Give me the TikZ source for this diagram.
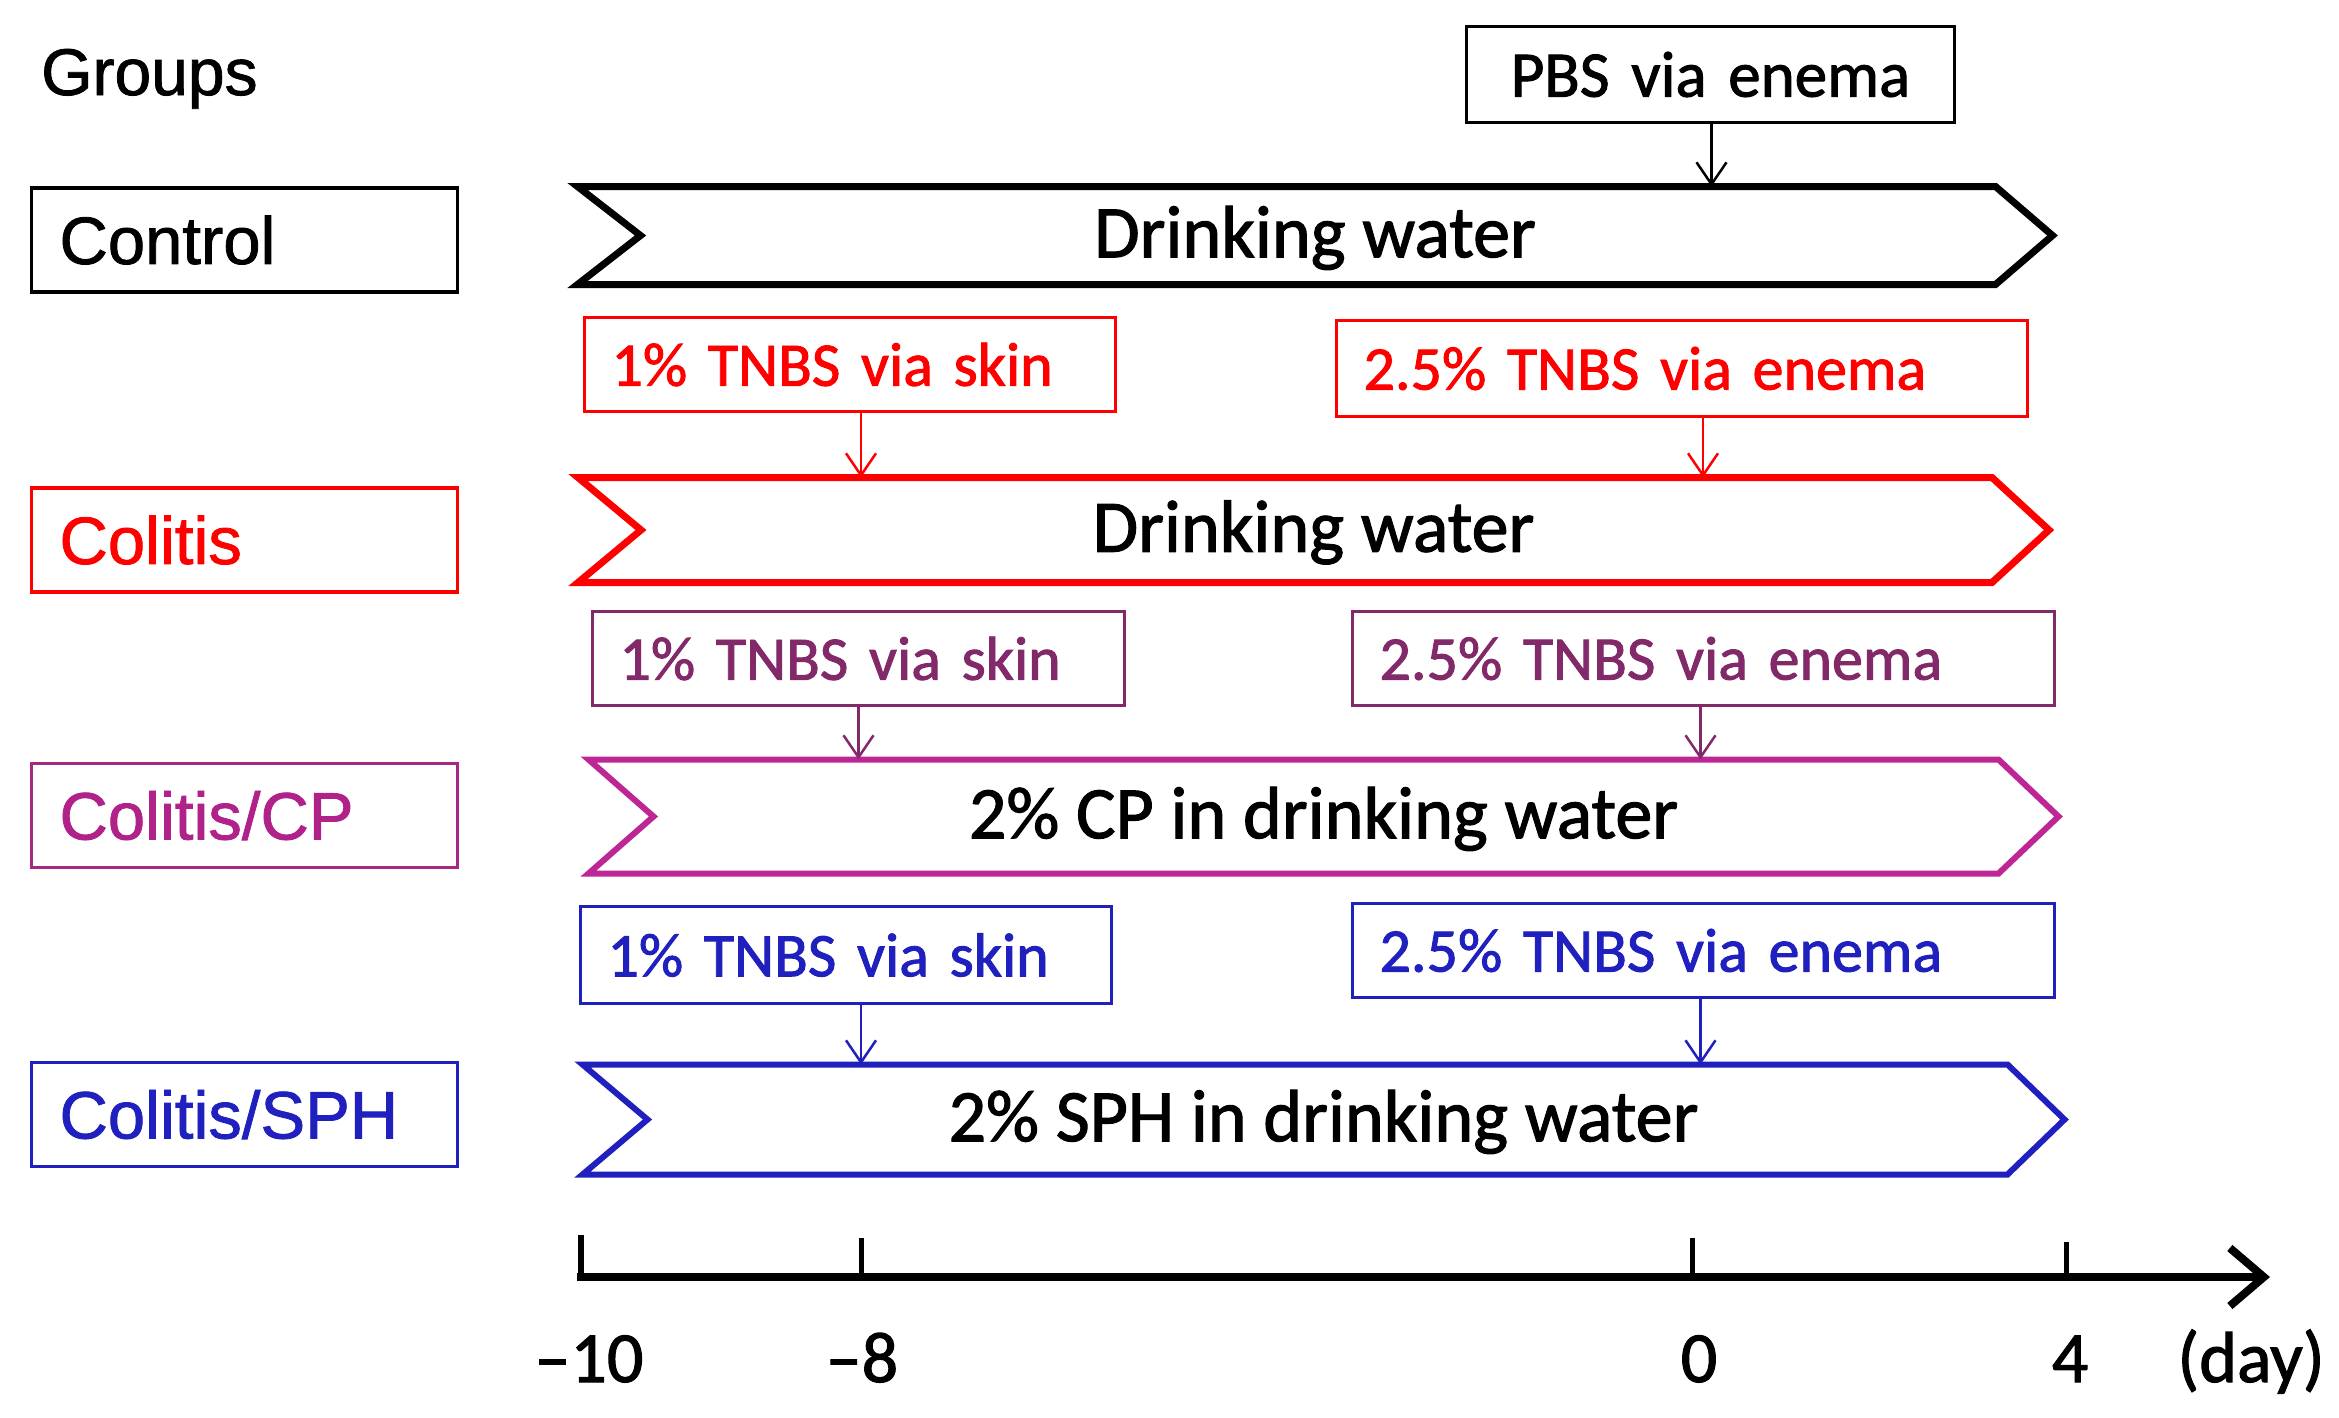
\documentclass[tikz,border=0pt]{standalone}
\usepackage{fontspec}
\setmainfont{Carlito}[FakeBold=1.5]
\newfontfamily\grpfont{Liberation Sans}[FakeBold=1.2]
\usetikzlibrary{arrows.meta,calc}
\definecolor{cpMag}{RGB}{190,38,150}
\definecolor{cpText}{RGB}{176,34,138}
\definecolor{cpBox}{RGB}{165,40,130}
\definecolor{cpAnn}{RGB}{130,42,105}
\definecolor{sphBlue}{RGB}{32,32,190}
\definecolor{redC}{RGB}{255,0,0}
\newcommand\chevshape[5]{%
  \draw[chevline, draw=#4, line width=#5] (#1.north west) -- ([xshift=-#3]#1.north east) -- (#1.east)
    -- ([xshift=-#3]#1.south east) -- (#1.south west) -- ([xshift=#2]#1.west) -- cycle;}
\begin{document}
\begin{tikzpicture}[x=1pt,y=-1pt,
  grpbox/.style={draw, line width=3.5, minimum width=426, minimum height=104, inner xsep=28,
    text width=370, align=left, font=\grpfont\fontsize{67}{72}\selectfont},
  annbox/.style={draw, line width=3, inner xsep=27, inner ysep=0, align=left,
    font=\fontsize{62}{68}\selectfont},
  chevtext/.style={inner sep=0, outer sep=0, text depth=8pt, font=\fontsize{74}{80}\selectfont},
  chevline/.style={line join=miter},
  annarrow/.style={line width=2.5, -{Straight Barb[length=22,width=30]}},
  ticklbl/.style={anchor=base, inner sep=0, font=\fontsize{72}{78}\selectfont},
  ]
\fill[white] (0,0) rectangle (2339,1417);
\useasboundingbox (0,0) rectangle (2339,1417);

% heading
\node[anchor=base west, inner sep=0, font=\grpfont\fontsize{66}{72}\selectfont] (groups) at (41,95) {Groups};

% group boxes
\node[grpbox] (g1) at (244.5,240) {Control};
\node[grpbox, draw=redC, text=redC] (g2) at (244.5,540) {Colitis};
\node[grpbox, draw=cpBox, text=cpText] (g3) at (244.5,815.5) {Colitis/CP};
\node[grpbox, draw=sphBlue, text=sphBlue] (g4) at (244.5,1114.5) {Colitis/SPH};

% chevrons
\node[chevtext, minimum width=1475, minimum height=98] (c1) at (1315,235.5) {Drinking water};
\chevshape{c1}{63}{57}{black}{7}
\node[chevtext, minimum width=1471, minimum height=105] (c2) at (1313.5,530) {Drinking water};
\chevshape{c2}{63}{57}{redC}{7}
\node[chevtext, minimum width=1470, minimum height=114] (c3) at (1323.5,816.5) {2\% CP in drinking water};
\chevshape{c3}{65}{60}{cpMag}{6}
\node[chevtext, minimum width=1482, minimum height=110] (c4) at (1323.5,1119.5) {2\% SPH in drinking water};
\chevshape{c4}{65}{57}{sphBlue}{6}

% annotation boxes
\node[annbox, align=center, minimum width=488, minimum height=96, text width=434,
  font=\fontsize{65}{70}\selectfont] (pbs) at (1710.5,74.5) {PBS via enema};
\node[annbox, draw=redC, text=redC, minimum width=531, minimum height=94, text width=477] (r1) at (850,364.5) {1\% TNBS via skin};
\node[annbox, draw=redC, text=redC, minimum width=691, minimum height=96, text width=637] (r2) at (1682,368.5) {2.5\% TNBS via enema};
\node[annbox, draw=cpAnn, text=cpAnn, minimum width=532, minimum height=94, text width=478] (p1) at (858.5,658.5) {1\% TNBS via skin};
\node[annbox, draw=cpAnn, text=cpAnn, minimum width=702, minimum height=94, text width=648] (p2) at (1703.5,658.5) {2.5\% TNBS via enema};
\node[annbox, draw=sphBlue, text=sphBlue, minimum width=531, minimum height=97, text width=477] (b1) at (846,955) {1\% TNBS via skin};
\node[annbox, draw=sphBlue, text=sphBlue, minimum width=702, minimum height=94, text width=648] (b2) at (1703.5,950.5) {2.5\% TNBS via enema};

% connectors
\coordinate (a0) at ([xshift=1]pbs.south);
\draw[annarrow] (a0) -- (a0 |- c1.north);
\coordinate (a1) at ([xshift=11]r1.south);
\draw[annarrow, redC] (a1) -- (a1 |- c2.north);
\coordinate (a2) at ([xshift=21]r2.south);
\draw[annarrow, redC] (a2) -- (a2 |- c2.north);
\coordinate (a3) at (p1.south);
\draw[annarrow, cpAnn] (a3) -- (a3 |- c3.north);
\coordinate (a4) at ([xshift=-3]p2.south);
\draw[annarrow, cpAnn] (a4) -- (a4 |- c3.north);
\coordinate (a5) at ([xshift=15]b1.south);
\draw[annarrow, sphBlue] (a5) -- (a5 |- c4.north);
\coordinate (a6) at ([xshift=-3]b2.south);
\draw[annarrow, sphBlue] (a6) -- (a6 |- c4.north);

% time axis
\coordinate (ax0) at (577,1277);
\coordinate (ax1) at (2270,1277);
\draw[line width=8, -{Straight Barb[length=34,width=58]}] (ax0) -- (ax1);
\draw[line width=6] (581,1281) -- (581,1235);
\draw[line width=5] (861,1277) -- (861,1238);
\draw[line width=5] (1692,1277) -- (1692,1238);
\draw[line width=5] (2066,1277) -- (2066,1242);
\node[ticklbl] (l10) at (589,1382) {\textendash 10};
\node[ticklbl] (l8) at (862,1382) {\textendash 8};
\node[ticklbl] (l0) at (1699,1382) {0};
\node[ticklbl] (l4) at (2070,1382) {4};
\node[ticklbl] (lday) at (2251,1382) {(day)};
\end{tikzpicture}
\end{document}
